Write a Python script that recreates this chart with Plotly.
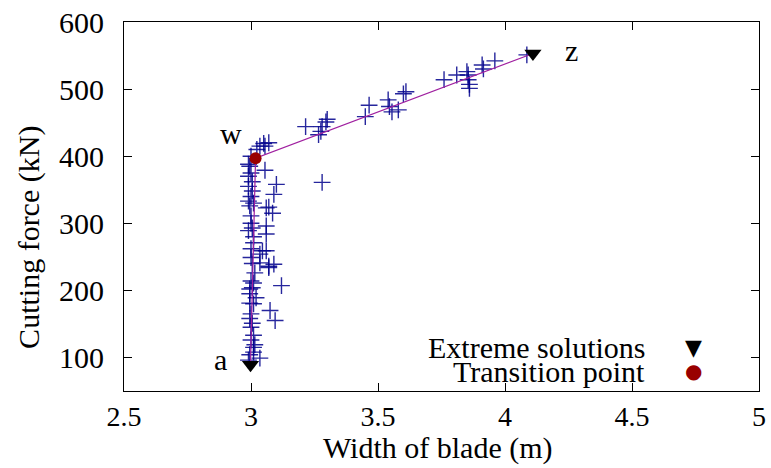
import plotly.graph_objects as go

# ---- data ----
sol_x = [3.215, 3.266, 3.275, 3.28, 3.30, 3.295, 3.45, 3.465, 3.54, 3.545, 3.555, 3.58, 3.60, 3.61,
         3.76, 3.81, 3.85, 3.855, 3.855, 3.86, 3.86, 3.91, 3.915, 3.96, 4.086,
         3.035, 3.05, 3.07, 3.055, 3.023,
         3.055, 3.10, 3.09, 3.07, 3.28, 3.06, 3.085, 3.06, 3.06, 3.06, 3.035, 3.035, 3.07, 3.09,
         3.12, 3.07, 3.075, 3.095, 3.045,
         2.99, 3.0, 2.99, 3.005, 3.0, 2.99, 3.01, 2.995, 3.0, 3.005, 2.99, 3.01, 3.0, 3.015, 3.0,
         3.005, 3.01, 2.995, 3.02, 3.01, 2.995, 3.0, 2.995, 3.005, 3.01, 3.0, 3.015, 3.01, 3.035,
         2.995, 2.99, 3.0, 2.995, 3.005, 2.99, 3.0, 3.01, 3.0, 3.005, 2.995, 3.0, 3.01]
sol_y = [444, 432, 437, 444, 455, 451, 459, 476, 484, 474, 466, 469, 493, 496,
         514, 521, 526, 521, 514, 507, 501, 536, 530, 542, 551,
         415, 419, 420, 415, 410,
         379, 358, 343, 324, 361, 323, 315, 296, 284, 259, 254, 241, 236, 239,
         207, 234, 170, 155, 259,
         388, 375, 370, 348, 340, 333, 330, 326, 311, 293, 289, 271, 249, 226, 214,
         204, 211, 202, 189, 180, 181, 165, 158, 151, 133, 126, 119, 108, 99,
         104, 96, 400, 385, 362, 355, 300, 280, 262, 240, 195, 145, 115]

front_x = [2.998, 3.018, 4.11]
front_y = [89, 397, 553]

extreme_x = [2.998, 4.11]
extreme_y = [89, 553]

transition_x = [3.018]
transition_y = [397]

point_labels = ["a", "w", "z"]
label_x = [2.88, 2.92, 4.26]
label_y = [97, 434, 557]

x_ticks = [2.5, 3, 3.5, 4, 4.5, 5]
y_ticks = [100, 200, 300, 400, 500, 600]

x_title = "Width of blade (m)"
y_title = "Cutting force (kN)"

FONT = "Liberation Serif"
FS = 30

fig = go.Figure()

fig.add_trace(go.Scatter(
    x=sol_x, y=sol_y, mode="markers", showlegend=False,
    marker=dict(symbol="cross-thin", size=12, color="rgba(0,0,140,0.85)",
                line=dict(color="rgba(0,0,140,0.85)", width=1.4)),
))
fig.add_trace(go.Scatter(
    x=front_x, y=front_y, mode="lines", showlegend=False,
    line=dict(color="#a020a0", width=1.2),
))
fig.add_trace(go.Scatter(
    x=extreme_x, y=extreme_y, mode="markers", showlegend=False,
    marker=dict(symbol="triangle-down", size=15, color="black"),
))
fig.add_trace(go.Scatter(
    x=transition_x, y=transition_y, mode="markers", showlegend=False,
    marker=dict(symbol="circle", size=12, color="#990000"),
))

for t, lx, ly in zip(point_labels, label_x, label_y):
    fig.add_annotation(x=lx, y=ly, xref="x", yref="y", text=t, showarrow=False,
                       font=dict(family=FONT, size=FS, color="black"))

W, H = 771, 468
L, R, T, B = 124, 5, 20, 77
pw, ph = W - L - R, H - T - B


def px(xp):
    return (xp - L) / pw


def py(yp):
    return 1 - (yp - T) / ph


# gnuplot-style legend (text, then symbol to the right)
legend_items = [("Extreme solutions", "▼", "black", 347, 22),
                ("Transition point", "●", "#990000", 371, 20)]
for text, sym, col, yy, ss in legend_items:
    fig.add_annotation(x=px(653), y=py(yy), xref="paper", yref="paper", text=text,
                       showarrow=False, xanchor="right", yanchor="middle",
                       font=dict(family=FONT, size=FS, color="black"))
    fig.add_annotation(x=px(700), y=py(yy), xref="paper", yref="paper", text=sym,
                       showarrow=False, xanchor="center", yanchor="middle",
                       font=dict(family="DejaVu Sans", size=ss, color=col))

# axis titles
fig.add_annotation(x=px(441), y=py(448), xref="paper", yref="paper", text=x_title,
                   showarrow=False, xanchor="center", yanchor="middle",
                   font=dict(family=FONT, size=FS, color="black"))
fig.add_annotation(x=px(28), y=py(237), xref="paper", yref="paper", text=y_title,
                   showarrow=False, xanchor="center", yanchor="middle", textangle=-90,
                   font=dict(family=FONT, size=FS, color="black"))

fig.update_layout(
    width=W, height=H,
    margin=dict(l=L, r=R, t=T, b=B),
    paper_bgcolor="white", plot_bgcolor="white",
    font=dict(family=FONT, size=FS, color="black"),
    showlegend=False,
)
fig.update_xaxes(
    range=[2.5, 5], tickvals=x_ticks, ticktext=[f"{v:g}" for v in x_ticks],
    ticks="inside", ticklen=8, tickcolor="black", tickwidth=1,
    showline=True, linecolor="black", linewidth=1, mirror="ticks",
    showgrid=False, zeroline=False, ticklabelstandoff=0, ticklabeloverflow="allow",
    tickfont=dict(family=FONT, size=28, color="black"),
)
fig.update_yaxes(
    range=[50, 600], tickvals=y_ticks, ticktext=[str(v) for v in y_ticks],
    ticks="inside", ticklen=8, tickcolor="black", tickwidth=1,
    showline=True, linecolor="black", linewidth=1, mirror="ticks",
    showgrid=False, zeroline=False, ticklabelstandoff=13,
    tickfont=dict(family=FONT, size=FS, color="black"),
)

fig.write_html("out.html")
